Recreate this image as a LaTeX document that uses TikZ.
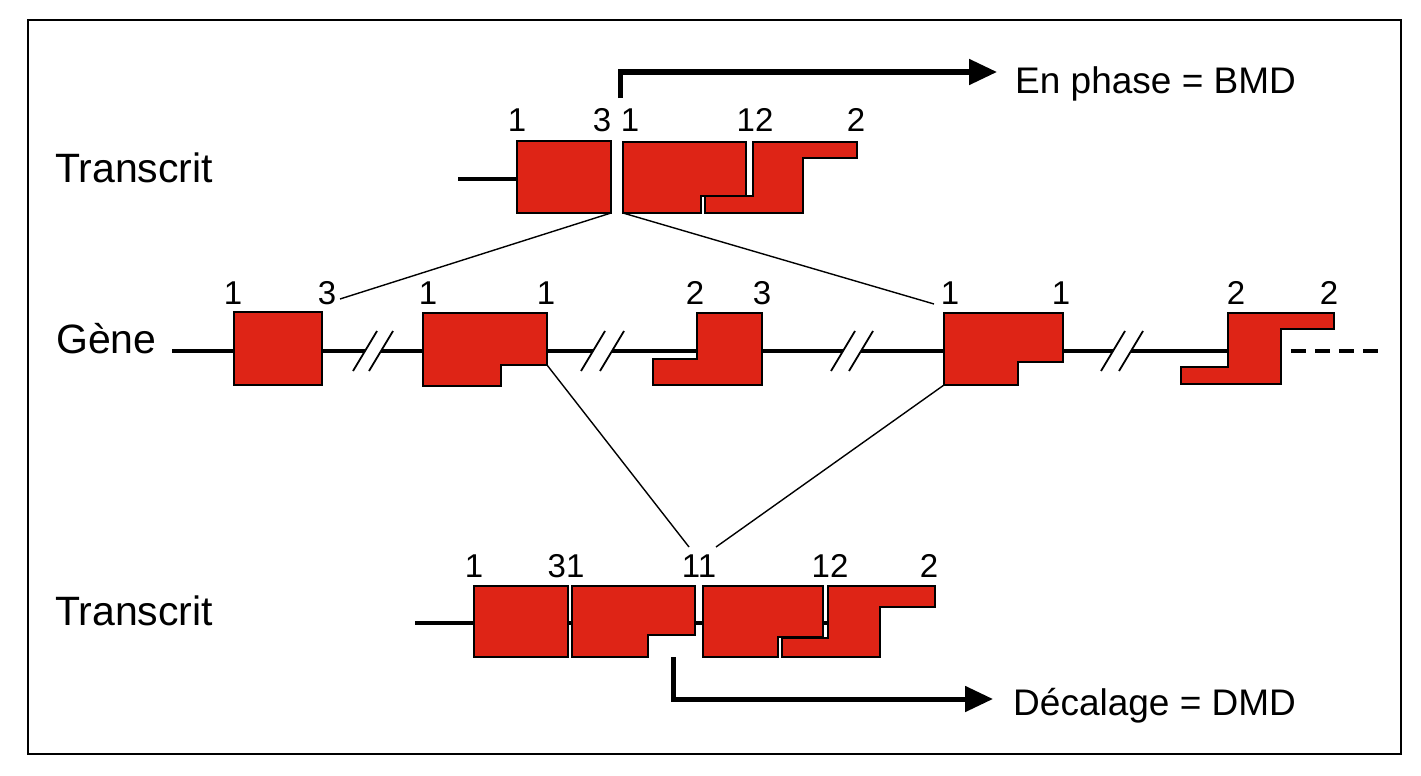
\documentclass[tikz,border=0pt]{standalone}
\usepackage{fontspec}
\setmainfont{Liberation Sans}
\usetikzlibrary{arrows.meta}
\definecolor{exonred}{RGB}{222,36,22}
\begin{document}
\begin{tikzpicture}[x=1pt,y=-1pt,
  exon/.style={fill=exonred,draw=black,line width=2.8pt,line join=miter},
  dna/.style={line width=3.5pt},
  link/.style={line width=1.4pt},
  bigarrow/.style={line width=5pt,line join=miter,-{Triangle[length=28pt,width=25pt]}},
  num/.style={font=\fontsize{33}{33}\selectfont,anchor=base,inner sep=0pt},
  lab/.style={font=\fontsize{41}{41}\selectfont,anchor=base west,inner sep=0pt},
  res/.style={font=\fontsize{37}{37}\selectfont,anchor=base west,inner sep=0pt},
  brk/.style={line width=1.8pt}]
\useasboundingbox (0,0) rectangle (1421,776);
\draw[line width=2pt] (28,20) rectangle (1401,754);

% ---------- row labels ----------
\node[lab] (ltop) at (55,182) {Transcrit};
\node[lab] (lgene) at (56,353) {Gène};
\node[lab] (lbot) at (55,625) {Transcrit};

% ---------- top transcript ----------
\coordinate (ts) at (458,179);
\coordinate (t1w) at (517,179);
\draw[dna] (ts) -- (t1w);
\draw[exon] (517,141) rectangle (611,213);
\coordinate (t1se) at (611,213);
\draw[exon] (623,142) -- (746,142) -- (746,196) -- (701,196) -- (701,213) -- (623,213) -- cycle;
\coordinate (t2sw) at (623,213);
\draw[exon] (753,142) -- (857,142) -- (857,158) -- (803,158) -- (803,213) -- (705,213) -- (705,196) -- (753,196) -- cycle;
\node[num] (nt1) at (517,131) {1};
\node[num] (nt2) at (602,131) {3};
\node[num] (nt3) at (630,131) {1};
\node[num] (nt4) at (755,131) {12};
\node[num] (nt5) at (856,131) {2};

\coordinate (atop0) at (620,98);
\coordinate (atop1) at (997,72);
\draw[bigarrow] (atop0) |- (atop1);
\node[res] (rtop) at (1015,93) {En phase = BMD};

% ---------- gene ----------
\coordinate (g0) at (172,351);
\coordinate (b1a) at (365,351);
\coordinate (b1b) at (381,351);
\coordinate (b2a) at (593,351);
\coordinate (b2b) at (612,351);
\coordinate (b3a) at (843,351);
\coordinate (b3b) at (861,351);
\coordinate (b4a) at (1113,351);
\coordinate (b4b) at (1131,351);
\coordinate (gE) at (1240,351);
\coordinate (d0) at (1291,351);
\coordinate (d1) at (1381,351);
\draw[dna] (g0) -- (b1a) (b1b) -- (b2a) (b2b) -- (b3a) (b3b) -- (b4a) (b4b) -- (gE);
\draw[dna,dash pattern=on 15pt off 9pt] (d0) -- (d1);
\foreach \c in {365,381,593,612,843,861,1113,1131}
  \draw[brk] (\c-12,371) -- (\c+12,331);

\draw[exon] (234,312) rectangle (322,385);
\draw[exon] (423,313) -- (547,313) -- (547,365) -- (501,365) -- (501,386) -- (423,386) -- cycle;
\coordinate (gBn) at (547,365);
\draw[exon] (697,313) -- (762,313) -- (762,385) -- (653,385) -- (653,359) -- (697,359) -- cycle;
\draw[exon] (944,313) -- (1063,313) -- (1063,362) -- (1018,362) -- (1018,385) -- (944,385) -- cycle;
\coordinate (gDsw) at (944,385);
\draw[exon] (1228,313) -- (1334,313) -- (1334,329) -- (1281,329) -- (1281,384) -- (1181,384) -- (1181,367) -- (1228,367) -- cycle;

\node[num] (ng1) at (233,304) {1};
\node[num] (ng2) at (327,304) {3};
\node[num] (ng3) at (428,304) {1};
\node[num] (ng4) at (546,304) {1};
\node[num] (ng5) at (695,304) {2};
\node[num] (ng6) at (762,304) {3};
\node[num] (ng7) at (950,304) {1};
\node[num] (ng8) at (1061,304) {1};
\node[num] (ng9) at (1236,304) {2};
\node[num] (ng10) at (1329,304) {2};

% ---------- bottom transcript ----------
\coordinate (bs) at (415,623);
\coordinate (be) at (828,623);
\draw[dna] (bs) -- (be);
\draw[exon] (474,586) rectangle (568,657);
\draw[exon] (572,586) -- (695,586) -- (695,635) -- (648,635) -- (648,657) -- (572,657) -- cycle;
\draw[exon] (703,586) -- (823,586) -- (823,637) -- (778,637) -- (778,657) -- (703,657) -- cycle;
\draw[exon] (828,586) -- (935,586) -- (935,607) -- (880,607) -- (880,657) -- (782,657) -- (782,638) -- (828,638) -- cycle;
\node[num] (nb1) at (474,577) {1};
\node[num] (nb2) at (566,577) {31};
\node[num] (nb3) at (699,577) {11};
\node[num] (nb4) at (830,577) {12};
\node[num] (nb5) at (929,577) {2};

\coordinate (abot0) at (673,657);
\coordinate (abot1) at (993,699);
\draw[bigarrow] (abot0) |- (abot1);
\node[res] (rbot) at (1013,715) {Décalage = DMD};

% ---------- splicing links ----------
\coordinate (k1) at (340,299);
\coordinate (k2) at (934,304);
\coordinate (k3) at (689,547);
\coordinate (k4) at (716,547);
\draw[link] (t1se) -- (k1);
\draw[link] (t2sw) -- (k2);
\draw[link] (gBn) -- (k3);
\draw[link] (gDsw) -- (k4);
\end{tikzpicture}
\end{document}
